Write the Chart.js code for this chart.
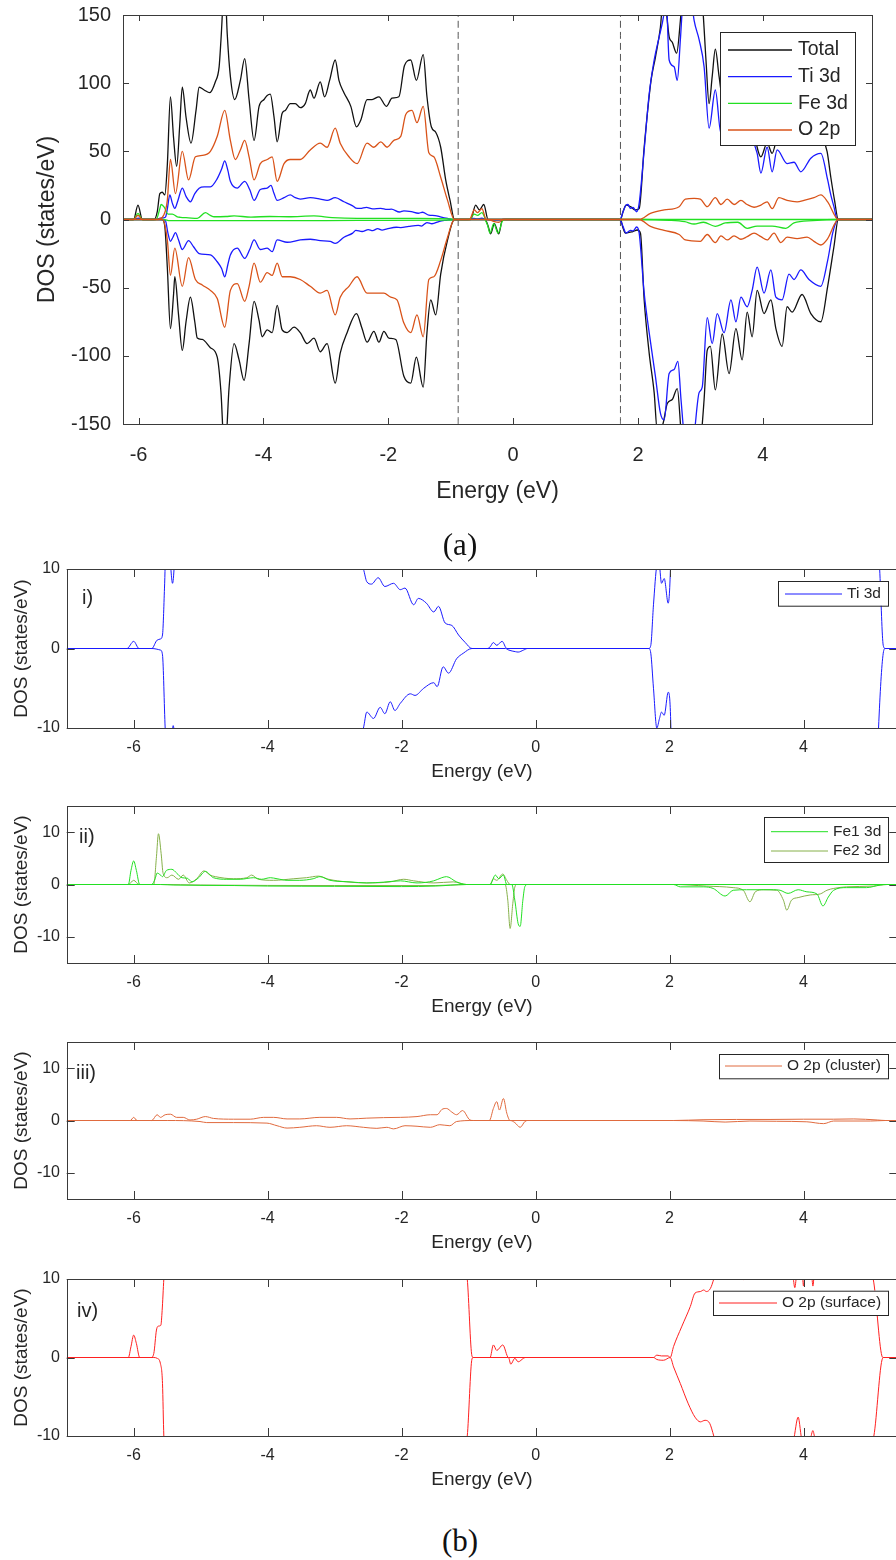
<!DOCTYPE html>
<html><head><meta charset="utf-8">
<script src="https://cdn.jsdelivr.net/npm/chart.js@4.4.1/dist/chart.umd.min.js"></script>
<style>
html,body{margin:0;padding:0;background:#fff;overflow:hidden;}
#page{position:relative;width:896px;height:1560px;overflow:hidden;background:#fff;}
canvas{position:absolute;left:0;}
.lbl{position:absolute;font-family:'Liberation Sans',Arial,sans-serif;color:#262626;font-size:20px;line-height:1;transform:translateY(-50%);}
.cap{position:absolute;font-family:'Liberation Serif','Times New Roman',serif;font-size:31px;color:#111;line-height:1;transform:translate(-50%,-50%);}
</style></head><body>
<div id="page">
<canvas id="cA" width="896" height="520" style="top:0px"></canvas>
<canvas id="c1" width="910" height="230" style="top:555px"></canvas>
<canvas id="c2" width="910" height="228" style="top:792px"></canvas>
<canvas id="c3" width="910" height="228" style="top:1028px"></canvas>
<canvas id="c4" width="910" height="228" style="top:1265px"></canvas>
<div class="cap" style="left:460px;top:544px">(a)</div>
<div class="lbl" style="left:82px;top:597px">i)</div>
<div class="lbl" style="left:79px;top:836px">ii)</div>
<div class="lbl" style="left:76px;top:1072px">iii)</div>
<div class="lbl" style="left:77px;top:1310px">iv)</div>
<div class="cap" style="left:460px;top:1540px">(b)</div>
</div>
<script>
// ---------- tick values ----------
const xTicksA = [-6, -4, -2, 0, 2, 4];
const yTicksA = [-150, -100, -50, 0, 50, 100, 150];
const xTicksB = [-6, -4, -2, 0, 2, 4];
const yTicksB = [-10, 0, 10];
// band-edge markers (panel a)
const vbmLine = [[-0.88, -150], [-0.88, 150]];
const cbmLine = [[1.72, -150], [1.72, 150]];

// ---------- panel (a): Total ----------
const totalUp = [[-6.3,0],[-6.08,0],[-6.01,10.6],[-5.94,0],[-5.75,0],[-5.70,6],[-5.66,19],[-5.62,20],[-5.58,18],[-5.54,40],[-5.49,90],[-5.44,60],[-5.39,39],[-5.34,70],[-5.30,97],[-5.24,75],[-5.16,56],[-5.08,80],[-5.03,97],[-4.95,95],[-4.86,93],[-4.77,101],[-4.71,112],[-4.68,132],[-4.62,175],[-4.58,136],[-4.53,105],[-4.46,88],[-4.37,102],[-4.30,118],[-4.23,88],[-4.15,58],[-4.07,83],[-3.99,88],[-3.94,91],[-3.89,92],[-3.83,75],[-3.78,57],[-3.70,78],[-3.65,80],[-3.57,85],[-3.49,85],[-3.41,82],[-3.33,85],[-3.25,95],[-3.19,89],[-3.09,101],[-3.02,90],[-2.94,102],[-2.85,117],[-2.79,102],[-2.71,93],[-2.60,83],[-2.51,68],[-2.44,73],[-2.34,88],[-2.26,88],[-2.15,90],[-2.03,83],[-1.94,89],[-1.83,90],[-1.74,113],[-1.64,117],[-1.55,102],[-1.44,121],[-1.38,90],[-1.31,68],[-1.24,64],[-1.16,53],[-1.08,29],[-1.01,14],[-0.94,0],[-0.68,0],[-0.60,10.6],[-0.54,7],[-0.47,11],[-0.40,0],[1.72,0],[1.76,5.5],[1.81,10.5],[1.88,9.4],[1.96,7],[2.02,8],[2.10,53],[2.21,102],[2.28,119],[2.36,141],[2.41,165],[2.46,150],[2.50,134],[2.55,130],[2.62,122],[2.68,146],[2.72,170],[2.85,190],[3.03,160],[3.09,117],[3.14,85],[3.19,105],[3.24,125],[3.30,105],[3.36,88],[3.44,98],[3.54,88],[3.64,92],[3.74,80],[3.84,72],[3.91,53],[3.97,46],[4.07,56],[4.15,48.5],[4.25,62],[4.40,60],[4.55,58],[4.70,62],[4.85,66],[4.95,60],[5.03,50],[5.09,31],[5.15,14],[5.21,0],[5.8,0]];
const totalDown = [[-6.3,0],[-5.62,0],[-5.58,-5],[-5.54,-35],[-5.49,-80],[-5.44,-55],[-5.42,-42],[-5.36,-70],[-5.30,-96],[-5.24,-75],[-5.17,-57],[-5.10,-75],[-5.06,-87],[-4.98,-88],[-4.85,-94],[-4.74,-101],[-4.68,-127],[-4.62,-175],[-4.55,-123],[-4.47,-91],[-4.39,-103],[-4.31,-118],[-4.23,-91],[-4.15,-60],[-4.07,-74],[-4.02,-86],[-3.94,-81],[-3.86,-83],[-3.78,-63],[-3.70,-81],[-3.62,-83],[-3.51,-79],[-3.41,-83],[-3.30,-91],[-3.19,-87],[-3.09,-97],[-2.98,-91],[-2.85,-120],[-2.77,-98],[-2.66,-83],[-2.51,-69],[-2.42,-80],[-2.34,-90],[-2.23,-82],[-2.15,-90],[-2.07,-82],[-1.99,-87],[-1.88,-88],[-1.75,-115],[-1.64,-120],[-1.55,-101],[-1.44,-123],[-1.38,-83],[-1.32,-59],[-1.24,-70],[-1.16,-40],[-1.05,-15],[-0.94,0],[-0.45,0],[-0.40,-5],[-0.36,-10.5],[-0.30,-3],[-0.23,-10.5],[-0.17,0],[1.72,0],[1.76,-6],[1.80,-10],[1.91,-9],[1.99,-7.7],[2.04,-10],[2.10,-59],[2.18,-98],[2.26,-127],[2.31,-155],[2.40,-150],[2.47,-135],[2.55,-132],[2.63,-124],[2.70,-160],[2.85,-185],[3.01,-160],[3.06,-132],[3.11,-96],[3.16,-93],[3.24,-125],[3.35,-84],[3.46,-113],[3.57,-80],[3.67,-103],[3.75,-68],[3.83,-86],[3.91,-52],[4.02,-69],[4.13,-59],[4.21,-80],[4.31,-93],[4.39,-64],[4.47,-68],[4.63,-55],[4.77,-69],[4.93,-75],[5.04,-49],[5.14,-20],[5.21,0],[5.8,0]];

// ---------- Ti 3d (panels a and i) ----------
const tiUp = [[-7,0],[-6.1,0],[-6.0,0.9],[-5.92,0],[-5.73,0],[-5.65,1.05],[-5.60,1.2],[-5.57,1.7],[-5.54,7.6],[-5.50,18],[-5.46,12],[-5.42,8.2],[-5.37,14],[-5.30,23],[-5.24,17],[-5.17,13],[-5.10,19],[-5.03,23],[-4.95,24],[-4.85,24],[-4.74,30],[-4.67,37],[-4.62,43],[-4.57,36],[-4.53,28],[-4.42,23],[-4.30,28],[-4.22,22],[-4.15,14],[-4.05,22],[-3.94,23],[-3.88,25],[-3.83,19],[-3.78,14],[-3.67,16],[-3.57,18],[-3.49,16],[-3.41,15],[-3.25,16],[-3.09,15],[-2.98,14],[-2.85,16],[-2.71,13],[-2.57,10],[-2.52,8.4],[-2.45,8.1],[-2.35,8.9],[-2.25,7.8],[-2.12,8.2],[-2.02,7.4],[-1.95,7.6],[-1.82,5.5],[-1.75,6.3],[-1.63,5.7],[-1.52,4.6],[-1.45,5.3],[-1.35,3.2],[-1.25,2.9],[-1.15,1.7],[-1.05,0.75],[-0.95,0],[-0.72,0],[-0.68,0.2],[-0.63,0.75],[-0.58,0.4],[-0.50,0.9],[-0.43,0],[1.69,0],[1.72,0.4],[1.76,5.5],[1.81,10.5],[1.84,11],[1.88,8.2],[1.92,8.8],[1.98,5.7],[2.02,12],[2.10,51],[2.18,92],[2.26,117],[2.34,134],[2.41,149],[2.45,165],[2.50,117],[2.58,112],[2.63,102],[2.68,132],[2.72,160],[2.80,180],[2.90,146],[2.98,132],[3.06,112],[3.14,67],[3.24,95],[3.33,63],[3.42,80],[3.52,72],[3.62,78],[3.72,65],[3.82,60],[3.91,48.5],[3.97,34],[4.07,53],[4.15,35],[4.23,51],[4.39,41],[4.50,42],[4.61,35],[4.77,45],[4.93,48.5],[5.04,29],[5.09,18],[5.14,9.4],[5.19,0.4],[5.22,0],[5.8,0]];
const tiDown = [[-7,0],[-5.73,0],[-5.60,-0.2],[-5.57,-0.8],[-5.53,-10],[-5.49,-16],[-5.45,-13],[-5.41,-9.7],[-5.36,-15],[-5.30,-22],[-5.20,-15.5],[-5.12,-20],[-5.03,-25],[-4.85,-26],[-4.74,-31],[-4.67,-36],[-4.62,-42],[-4.57,-33],[-4.53,-26],[-4.42,-21],[-4.30,-28.5],[-4.22,-22],[-4.15,-15],[-4.05,-22],[-3.94,-21],[-3.86,-23.6],[-3.78,-15],[-3.62,-16.7],[-3.41,-15],[-3.25,-14.5],[-3.09,-15.5],[-2.93,-16],[-2.85,-17.5],[-2.71,-13],[-2.57,-10],[-2.52,-8],[-2.42,-8.8],[-2.32,-7.4],[-2.25,-8.2],[-2.17,-6.7],[-2.10,-7.8],[-2.02,-6.9],[-1.87,-5.7],[-1.80,-5.9],[-1.67,-5.0],[-1.52,-4.3],[-1.47,-4.8],[-1.38,-2.3],[-1.30,-3.1],[-1.18,-1.3],[-1.08,-0.6],[-0.95,0],[-0.45,0],[-0.40,-0.2],[-0.30,-0.4],[-0.26,-0.45],[-0.18,-0.2],[-0.12,0],[1.69,0],[1.72,-0.6],[1.76,-5],[1.81,-10],[1.85,-8.8],[1.88,-8],[1.92,-8.4],[1.98,-5.5],[2.02,-10],[2.10,-54],[2.18,-83],[2.28,-115],[2.36,-142],[2.42,-147],[2.50,-113],[2.58,-110],[2.64,-104],[2.69,-132],[2.75,-160],[2.87,-165],[2.98,-127],[3.03,-123],[3.11,-72],[3.19,-91],[3.27,-69],[3.38,-83],[3.49,-59],[3.57,-75],[3.65,-57],[3.75,-64],[3.83,-52],[3.91,-35],[4.02,-54],[4.13,-37],[4.21,-57],[4.31,-59],[4.42,-40],[4.50,-44],[4.61,-37],[4.74,-44],[4.93,-49],[5.04,-30],[5.12,-10],[5.19,-0.6],[5.22,0],[5.8,0]];

// ---------- panel (a): Fe 3d, O 2p ----------
const feUp = [[-6.3,0],[-6.08,0],[-6.01,4.5],[-5.94,0],[-5.72,0],[-5.66,8],[-5.64,11],[-5.59,9],[-5.53,4],[-5.46,4],[-5.38,2],[-5.33,1.6],[-5.2,1.2],[-5.06,0.8],[-4.93,5],[-4.85,3],[-4.79,2],[-4.6,2.2],[-4.47,2.6],[-4.2,1.8],[-3.9,2.2],[-3.6,2],[-3.19,2.6],[-2.9,1.4],[-2.5,0.8],[-2.0,0.8],[-1.5,0.8],[-1.0,0.4],[-0.94,0],[-0.70,0],[-0.62,4],[-0.57,3],[-0.50,5],[-0.43,0],[5.8,0]];
const feDown = [[-6.3,0],[-5.6,0],[-5.5,-0.8],[-5.0,-0.8],[-4.0,-0.8],[-3.0,-0.8],[-2.0,-0.6],[-1.0,-0.4],[-0.94,0],[-0.46,0],[-0.41,-4],[-0.37,-10],[-0.31,-3],[-0.24,-10],[-0.17,-1],[-0.12,0],[2.02,0],[2.5,-0.6],[2.75,-1.6],[2.90,-3.3],[3.05,-2],[3.24,-5],[3.4,-2.5],[3.6,-2],[3.75,-6.5],[3.91,-4.8],[4.15,-4.8],[4.37,-6.5],[4.5,-2.5],[4.8,-0.8],[5.21,0],[5.8,0]];
const oUp = [[-6.3,0],[-6.08,0],[-6.01,3],[-5.94,0],[-5.70,0],[-5.60,3],[-5.54,14],[-5.49,44],[-5.41,19],[-5.30,50],[-5.20,29],[-5.09,46],[-4.98,47],[-4.85,50],[-4.74,61],[-4.62,80],[-4.53,58],[-4.45,44],[-4.37,51],[-4.30,58],[-4.23,46],[-4.15,29],[-4.05,41],[-3.94,44],[-3.86,46],[-3.78,28],[-3.67,41],[-3.57,44],[-3.41,44],[-3.25,51],[-3.09,56],[-2.98,53],[-2.85,67],[-2.77,56],[-2.63,46],[-2.50,41],[-2.34,56],[-2.23,53],[-2.12,57],[-2.02,53],[-1.91,58],[-1.80,61],[-1.72,77],[-1.62,80],[-1.54,71],[-1.44,83],[-1.35,49],[-1.27,46],[-1.16,31],[-1.05,14],[-0.94,0],[-0.70,0],[-0.62,7],[-0.57,5],[-0.50,8],[-0.43,0],[2.02,0],[2.20,4.5],[2.42,7],[2.66,9.4],[2.76,15],[2.90,15.5],[3.00,15],[3.11,9.4],[3.24,16],[3.33,11],[3.43,15],[3.54,11],[3.65,14],[3.75,11],[3.86,9],[3.97,10.6],[4.07,13],[4.15,8],[4.26,16],[4.39,14],[4.55,13],[4.66,14],[4.82,16],[4.93,18],[5.04,13],[5.21,0],[5.8,0]];
const oDown = [[-6.3,0],[-5.62,0],[-5.54,-15],[-5.49,-41],[-5.42,-21],[-5.30,-49],[-5.20,-28],[-5.09,-44],[-4.98,-48],[-4.85,-52],[-4.74,-58],[-4.62,-79],[-4.53,-52],[-4.42,-47],[-4.30,-60],[-4.23,-49],[-4.15,-32],[-4.05,-46],[-3.94,-39],[-3.86,-41],[-3.78,-32],[-3.70,-42],[-3.57,-42],[-3.41,-44],[-3.25,-49],[-3.09,-54],[-2.98,-52],[-2.85,-70],[-2.77,-57],[-2.63,-49],[-2.50,-42],[-2.34,-54],[-2.18,-54],[-2.07,-54],[-1.96,-57],[-1.86,-59],[-1.75,-76],[-1.64,-83],[-1.54,-70],[-1.44,-86],[-1.35,-44],[-1.27,-42],[-1.16,-30],[-1.05,-13],[-0.94,0],[-0.40,0],[-0.30,-1.5],[-0.23,-2],[-0.16,0],[2.02,0],[2.20,-5],[2.42,-8],[2.66,-11],[2.76,-15],[3.00,-16],[3.11,-11],[3.24,-17],[3.33,-12],[3.43,-15],[3.54,-12],[3.65,-14.5],[3.75,-12.6],[3.86,-10],[3.97,-12.6],[4.07,-15],[4.18,-10],[4.29,-17],[4.39,-13],[4.55,-14],[4.71,-13],[4.82,-16],[4.93,-18.7],[5.04,-14],[5.21,0],[5.8,0]];

// ---------- panel ii: Fe1 3d, Fe2 3d ----------
const fe1Up = [[-7,0],[-6.08,0],[-6.04,2.7],[-6.0,4.5],[-5.96,2.7],[-5.91,0],[-5.73,0],[-5.68,1.1],[-5.65,2.2],[-5.60,1.8],[-5.57,1.5],[-5.51,2.7],[-5.43,2.9],[-5.36,2.2],[-5.28,1.3],[-5.20,1.2],[-5.13,0.5],[-5.03,1.3],[-4.93,2.5],[-4.81,1.3],[-4.61,1.0],[-4.41,1.0],[-4.21,1.3],[-4.09,1.0],[-3.96,1.3],[-3.86,1.1],[-3.71,0.8],[-3.52,0.8],[-3.32,1.1],[-3.22,1.5],[-3.07,0.8],[-2.77,0.5],[-2.52,0.3],[-2.27,0.45],[-2.02,0.7],[-1.77,0.3],[-1.52,0.7],[-1.40,1.3],[-1.33,1.5],[-1.18,0.5],[-1.03,0],[-0.68,0],[-0.60,1.8],[-0.55,1.1],[-0.48,1.8],[-0.43,0],[5.5,0]];
const fe1Down = [[-7,0],[-5.6,0],[-5.4,-0.1],[-4.5,-0.2],[-4.0,-0.3],[-3.0,-0.35],[-2.0,-0.4],[-1.5,-0.3],[-1.03,0],[-0.355,0],[-0.31,-3],[-0.26,-7.5],[-0.23,-8.0],[-0.19,-3],[-0.16,-0.4],[-0.12,0],[2.06,0],[2.16,-0.45],[2.51,-0.45],[2.65,-0.75],[2.83,-2.2],[2.95,-1.1],[3.15,-1.0],[3.35,-1.0],[3.55,-1.0],[3.65,-1.1],[3.77,-1.7],[3.92,-1.0],[4.05,-1.4],[4.20,-1.8],[4.29,-4.1],[4.37,-2.4],[4.45,-1.1],[4.64,-0.6],[4.94,-0.6],[5.14,-0.1],[5.25,0],[5.5,0]];
const fe2Up = [[-7,0],[-6.08,0],[-6.0,0.8],[-5.92,0],[-5.70,0],[-5.66,5.3],[-5.63,9.7],[-5.59,5.9],[-5.56,2.1],[-5.50,1.3],[-5.43,1.8],[-5.33,1.0],[-5.26,1.8],[-5.17,0.3],[-5.06,1.1],[-4.95,2.6],[-4.86,1.8],[-4.78,1.5],[-4.51,1.1],[-4.31,1.3],[-4.24,1.8],[-4.14,1.0],[-3.91,0.8],[-3.61,1.1],[-3.42,1.3],[-3.24,1.6],[-3.09,1.0],[-2.82,0.5],[-2.52,0.3],[-2.17,0.5],[-1.97,1.0],[-1.82,0.7],[-1.52,0.3],[-1.23,0.5],[-1.03,0],[-0.68,0],[-0.63,1.1],[-0.58,0.8],[-0.49,2.0],[-0.43,0.8],[-0.38,0],[5.5,0]];
const fe2Down = [[-7,0],[-5.6,0],[-5.0,-0.1],[-3.0,-0.2],[-1.5,-0.2],[-1.03,0],[-0.455,0],[-0.415,-3],[-0.38,-8.4],[-0.34,-3.6],[-0.31,-0.5],[-0.28,0],[2.06,0],[2.55,-0.3],[2.95,-0.6],[3.10,-1.1],[3.20,-3.3],[3.28,-1.4],[3.40,-1.0],[3.60,-1.1],[3.70,-3.0],[3.75,-4.9],[3.82,-3.0],[3.92,-2.5],[4.10,-2.0],[4.25,-1.8],[4.35,-1.1],[4.45,-0.75],[4.64,-0.45],[5.04,-0.3],[5.25,0],[5.5,0]];

// ---------- panel iii: O 2p (cluster) ----------
const oClUp = [[-7,0],[-6.05,0],[-6.0,0.6],[-5.95,0],[-5.73,0],[-5.65,1.1],[-5.60,0.6],[-5.53,1.1],[-5.45,1.2],[-5.36,0.6],[-5.26,0.6],[-5.16,0.1],[-5.06,0.25],[-4.93,0.75],[-4.81,0.4],[-4.51,0.25],[-4.26,0.25],[-4.06,0.6],[-3.91,0.6],[-3.71,0.3],[-3.52,0.3],[-3.22,0.6],[-2.97,0.6],[-2.77,0.3],[-2.52,0.45],[-2.27,0.55],[-2.02,0.6],[-1.77,0.75],[-1.57,1.1],[-1.47,1.1],[-1.40,2.1],[-1.33,2.3],[-1.25,1.6],[-1.18,1.1],[-1.09,1.9],[-0.98,0.1],[-0.93,0],[-0.69,0],[-0.63,2.3],[-0.58,3.6],[-0.54,2.0],[-0.48,4.2],[-0.43,1.4],[-0.38,0],[2.06,0],[2.5,0.15],[3.0,0.2],[3.5,0.2],[4.0,0.25],[4.45,0.25],[4.75,0.3],[5.1,0.1],[5.22,0],[5.5,0]];
const oClDown = [[-7,0],[-5.5,0],[-5.01,-0.2],[-4.91,-0.4],[-4.51,-0.4],[-4.01,-0.5],[-3.86,-1.0],[-3.71,-1.45],[-3.52,-1.3],[-3.27,-1.0],[-3.07,-1.3],[-2.82,-1.0],[-2.57,-1.3],[-2.37,-1.5],[-2.22,-1.3],[-2.12,-1.6],[-1.95,-1.0],[-1.77,-1.1],[-1.57,-1.3],[-1.43,-0.8],[-1.28,-1.0],[-1.18,-0.2],[-0.93,0],[-0.38,0],[-0.31,-0.4],[-0.23,-1.3],[-0.16,-0.2],[-0.12,0],[2.06,0],[2.5,-0.1],[2.83,-0.3],[3.2,-0.1],[3.6,-0.15],[4.05,-0.25],[4.30,-0.6],[4.45,-0.1],[5.0,-0.1],[5.22,0],[5.5,0]];

// ---------- panel iv: O 2p (surface) ----------
const oSfUp = [[-7,0],[-6.08,0],[-6.04,1.4],[-6.0,2.85],[-5.96,1.8],[-5.91,0],[-5.74,0],[-5.70,0.5],[-5.66,3.5],[-5.63,4.0],[-5.595,4.1],[-5.575,6],[-5.55,10],[-5.50,16],[-5.3,22],[-4.5,25],[-3.5,22],[-2.5,22],[-1.5,20],[-1.1,14],[-1.02,10],[-0.95,0.2],[-0.93,0],[-0.68,0],[-0.63,1.6],[-0.58,0.9],[-0.49,1.6],[-0.405,0],[1.76,0],[1.81,0.3],[1.88,0.2],[1.98,0.2],[2.01,0],[2.06,1.4],[2.18,3.9],[2.31,6.5],[2.38,8.2],[2.46,8.4],[2.51,8.6],[2.55,8.4],[2.61,8.8],[2.66,10],[2.75,13],[2.95,12],[3.08,10.8],[3.11,9.9],[3.14,10.8],[3.4,14],[3.75,12],[3.84,10.5],[3.87,8.9],[3.90,10.5],[3.98,10.5],[4.00,9.1],[4.02,10.5],[4.12,10.5],[4.14,9.1],[4.16,10.5],[4.5,14],[4.9,12],[5.04,10],[5.17,0.2],[5.19,0],[5.5,0]];
const oSfDown = [[-7,0],[-5.70,0],[-5.65,-0.1],[-5.60,-0.8],[-5.57,-3.3],[-5.55,-10],[-5.50,-16],[-5.0,-22],[-4.0,-20],[-3.0,-22],[-2.0,-20],[-1.5,-18],[-1.1,-13],[-1.02,-10],[-0.95,-0.2],[-0.93,0],[-0.405,0],[-0.37,-0.85],[-0.31,-0.1],[-0.26,-0.55],[-0.18,-0.1],[-0.15,0],[1.76,0],[1.81,-0.25],[1.91,-0.35],[2.01,0],[2.06,-1.2],[2.16,-3.3],[2.28,-5.9],[2.38,-7.6],[2.46,-8.2],[2.53,-8.0],[2.60,-8.4],[2.66,-10],[2.75,-13],[3.2,-14],[3.6,-13],[3.85,-10.5],[3.92,-7.6],[3.98,-10.5],[4.10,-10.3],[4.14,-9.3],[4.17,-10.3],[4.5,-14],[4.9,-13],[5.05,-10],[5.18,-0.1],[5.2,0],[5.5,0]];

// ---------- styling ----------
const FONT = "'Liberation Sans', Arial, Helvetica, sans-serif";
const TXT = '#262626';
const AXC = '#3a3a3a';
const C_TOTAL = '#111111', C_TI = '#1a1aff', C_FE = '#22e022', C_O = '#d95319',
      C_FE2 = '#86b04a', C_OCL = '#e06a3e', C_OSF = '#ff2020';

function pts(a) { return a.map(p => ({x: p[0], y: p[1]})); }
function line(label, data, color, width, order, inLegend, dash) {
  return { label, data: pts(data), borderColor: color, borderWidth: width, pointRadius: 0,
    fill: false, cubicInterpolationMode: 'monotone', order, inLegend: !!inLegend,
    borderDash: dash || [] };
}

const boxPlugin = {
  id: 'box',
  afterDatasetsDraw(chart, args, o) {
    const {ctx, chartArea: a, scales: {x, y}} = chart;
    ctx.save();
    ctx.strokeStyle = AXC; ctx.lineWidth = 1; ctx.setLineDash([]);
    const L = o.tick;
    ctx.beginPath();
    x.ticks.forEach(t => {
      const px = Math.round(x.getPixelForValue(t.value)) + 0.5;
      ctx.moveTo(px, a.bottom); ctx.lineTo(px, a.bottom - L);
      ctx.moveTo(px, a.top); ctx.lineTo(px, a.top + L);
    });
    y.ticks.forEach(t => {
      const py = Math.round(y.getPixelForValue(t.value)) + 0.5;
      ctx.moveTo(a.left, py); ctx.lineTo(a.left + L, py);
      ctx.moveTo(a.right, py); ctx.lineTo(a.right - L, py);
    });
    ctx.stroke();
    ctx.strokeRect(Math.round(a.left) + 0.5, Math.round(a.top) + 0.5,
      Math.round(a.right) - Math.round(a.left), Math.round(a.bottom) - Math.round(a.top));
    const G = o.legend;
    if (G) {
      ctx.fillStyle = '#fff';
      ctx.fillRect(G.x0, G.y0, G.x1 - G.x0, G.y1 - G.y0);
      ctx.strokeStyle = '#262626'; ctx.lineWidth = 1;
      ctx.strokeRect(G.x0 + 0.5, G.y0 + 0.5, G.x1 - G.x0, G.y1 - G.y0);
      ctx.font = G.size + 'px ' + FONT; ctx.textBaseline = 'middle'; ctx.textAlign = 'left';
      chart.data.datasets.filter(d => d.inLegend).forEach((d, i) => {
        const yy = G.rows[i];
        ctx.strokeStyle = d.borderColor; ctx.lineWidth = d.borderWidth;
        ctx.beginPath(); ctx.moveTo(G.lx0, yy); ctx.lineTo(G.lx1, yy); ctx.stroke();
        ctx.fillStyle = TXT; ctx.fillText(d.label, G.tx, yy);
      });
    }
    ctx.restore();
  }
};

function makePanel(id, p) {
  return new Chart(document.getElementById(id), {
    type: 'line',
    data: { datasets: p.datasets },
    plugins: [boxPlugin],
    options: {
      responsive: false, animation: false, devicePixelRatio: 1,
      layout: { padding: { top: p.padTop, right: p.padRight, left: 0, bottom: 0 } },
      plugins: { legend: { display: false }, tooltip: { enabled: false },
        box: { tick: p.tickLen, legend: p.legend } },
      scales: {
        x: { type: 'linear', min: p.xMin, max: p.xMax,
          afterBuildTicks: s => { s.ticks = p.xTicks.map(v => ({value: v})); },
          afterFit: s => { s.height = p.xH; s.paddingLeft = 0; s.paddingRight = 0; },
          grid: { display: false, drawTicks: false }, border: { display: false },
          ticks: { font: { family: FONT, size: p.tickSize }, color: TXT, padding: p.xTickPad,
            maxRotation: 0, autoSkip: false },
          title: { display: true, text: 'Energy (eV)', color: TXT,
            font: { family: FONT, size: p.titleSize }, padding: { top: 0, bottom: p.xTitlePad } } },
        y: { type: 'linear', min: p.yMin, max: p.yMax,
          afterBuildTicks: s => { s.ticks = p.yTicks.map(v => ({value: v})); },
          afterFit: s => { s.width = p.yW; s.paddingTop = 0; s.paddingBottom = 0; },
          grid: { display: false, drawTicks: false }, border: { display: false },
          ticks: { font: { family: FONT, size: p.tickSize }, color: TXT, padding: p.yTickPad,
            autoSkip: false },
          title: { display: true, text: 'DOS (states/eV)', color: TXT,
            font: { family: FONT, size: p.yTitleSize || p.titleSize }, padding: { top: p.yTitlePad, bottom: 0 } } }
      }
    }
  });
}

// ---------- panel (a) ----------
makePanel('cA', {
  xMin: -6.25, xMax: 5.75, yMin: -150, yMax: 150, xTicks: xTicksA, yTicks: yTicksA,
  padTop: 15, padRight: 24, yW: 123, xH: 96, tickLen: 6,
  tickSize: 20, titleSize: 23, xTickPad: 19, xTitlePad: 15, yTickPad: 12, yTitlePad: 34,
  legend: { x0: 720, y0: 32, x1: 855, y1: 145, lx0: 728, lx1: 792, tx: 798,
    rows: [50, 76.7, 103.3, 130], size: 19.5 },
  datasets: [
    line('Total', totalUp, C_TOTAL, 1.3, 5, true),
    line('Total', totalDown, C_TOTAL, 1.3, 5, false),
    line('Ti 3d', tiUp, C_TI, 1.3, 4, true),
    line('Ti 3d', tiDown, C_TI, 1.3, 4, false),
    line('Fe 3d', feUp, C_FE, 1.3, 3, true),
    line('Fe 3d', feDown, C_FE, 1.3, 3, false),
    line('O 2p', oUp, C_O, 1.3, 2, true),
    line('O 2p', oDown, C_O, 1.3, 2, false),
    line('VBM', vbmLine, '#555555', 1, 6, false, [7, 4]),
    line('CBM', cbmLine, '#555555', 1, 6, false, [7, 4])
  ]
});

// ---------- panels (b) ----------
const common = { xMin: -7, xMax: 5.4, xTicks: xTicksB, yTicks: yTicksB,
  padTop: 14, padRight: 12.7, yW: 66.7, xH: 57, tickLen: 8,
  tickSize: 16, titleSize: 19, xTickPad: 10, xTitlePad: 2, yTickPad: 6.7, yTitlePad: 10.6 };

makePanel('c1', Object.assign({}, common, { yMin: -10, yMax: 10,
  legend: { x0: 778, y0: 26, x1: 888, y1: 50.7, lx0: 785, lx1: 842, tx: 847, rows: [39], size: 15.5 },
  datasets: [ line('Ti 3d', tiUp, C_TI, 1, 1, true), line('Ti 3d', tiDown, C_TI, 1, 1, false) ] }));

makePanel('c2', Object.assign({}, common, { yMin: -15, yMax: 15,
  legend: { x0: 764, y0: 25, x1: 888, y1: 70, lx0: 771, lx1: 828, tx: 833, rows: [39.7, 59], size: 15.5 },
  datasets: [ line('Fe1 3d', fe1Up, C_FE, 1, 1, true), line('Fe1 3d', fe1Down, C_FE, 1, 1, false),
              line('Fe2 3d', fe2Up, C_FE2, 1, 2, true), line('Fe2 3d', fe2Down, C_FE2, 1, 2, false) ] }));

makePanel('c3', Object.assign({}, common, { yMin: -15, yMax: 15,
  legend: { x0: 719, y0: 26, x1: 888, y1: 50.3, lx0: 725, lx1: 782, tx: 787, rows: [38], size: 15.5 },
  datasets: [ line('O 2p (cluster)', oClUp, C_OCL, 1, 1, true), line('O 2p (cluster)', oClDown, C_OCL, 1, 1, false) ] }));

makePanel('c4', Object.assign({}, common, { yMin: -10, yMax: 10,
  legend: { x0: 713, y0: 25.7, x1: 888, y1: 50, lx0: 719, lx1: 777, tx: 782, rows: [38], size: 15.5 },
  datasets: [ line('O 2p (surface)', oSfUp, C_OSF, 1, 1, true), line('O 2p (surface)', oSfDown, C_OSF, 1, 1, false) ] }));
</script>
</body></html>
